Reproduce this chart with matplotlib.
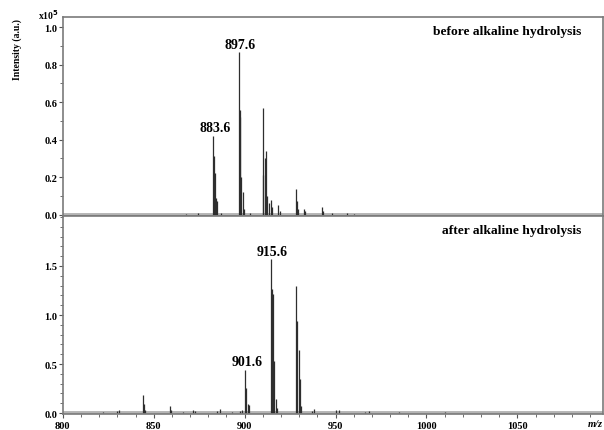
import matplotlib
matplotlib.use('Agg')
import matplotlib.pyplot as plt
from matplotlib.ticker import MultipleLocator, FixedLocator

plt.rcParams['font.family'] = 'Liberation Serif'
plt.rcParams['font.weight'] = 'bold'

# top spectrum: before alkaline hydrolysis (x1e5)
before_mz = [868.0, 874.5, 882.6, 882.9, 883.6, 884.0, 884.6, 887.0,
             896.7, 897.4, 897.7, 898.2, 898.9, 899.5, 903.0,
             910.0, 910.3, 911.4, 911.6, 912.5, 913.4, 914.3, 915.0, 918.3, 919.4,
             928.1, 928.8, 929.6, 932.5, 933.2, 942.4, 943.1, 948.0, 956.2, 960.0]
before_int = [0.005, 0.006, 0.42, 0.31, 0.22, 0.09, 0.07, 0.01,
              0.865, 0.56, 0.52, 0.20, 0.12, 0.03, 0.01,
              0.21, 0.566, 0.30, 0.34, 0.10, 0.06, 0.08, 0.04, 0.05, 0.02,
              0.136, 0.07, 0.03, 0.03, 0.02, 0.04, 0.02, 0.01, 0.01, 0.005]

# bottom spectrum: after alkaline hydrolysis (x1e5)
after_mz = [822.0, 829.9, 830.7, 843.9, 844.5, 845.2, 858.7, 859.3, 866.0, 871.8, 872.6,
            884.6, 886.2, 893.0, 897.5, 898.6, 900.2, 900.9, 901.6, 902.2,
            914.4, 915.0, 915.6, 916.3, 917.2, 917.8,
            928.3, 929.0, 929.7, 930.4, 931.1, 937.0, 938.4, 950.3, 952.1, 966.3, 968.2, 985.0, 1010.0]
after_int = [0.01, 0.025, 0.03, 0.18, 0.09, 0.03, 0.07, 0.03, 0.015, 0.03, 0.02,
             0.02, 0.04, 0.015, 0.02, 0.03, 0.44, 0.26, 0.09, 0.08,
             1.57, 1.27, 1.21, 0.53, 0.14, 0.05,
             1.30, 0.94, 0.64, 0.35, 0.07, 0.02, 0.04, 0.03, 0.03, 0.01, 0.02, 0.01, 0.01]

labels_before = [('883.6', 882.6, 0.42), ('897.6', 896.7, 0.865)]
labels_after = [('901.6', 900.2, 0.44), ('915.6', 914.4, 1.57)]

yticks_before = [0.0, 0.2, 0.4, 0.6, 0.8, 1.0]
yticks_after = [0.0, 0.5, 1.0, 1.5]

fig = plt.figure(figsize=(6.04, 4.31), dpi=100)
ax1 = fig.add_axes([0.104, 0.4965, 0.894, 0.4615])
ax2 = fig.add_axes([0.104, 0.036, 0.894, 0.4605])

spine_col = '#7a7a7a'
line_col = '#2e2e2e'

for ax, mz, inten, labs, ylim, yt, title in [
        (ax1, before_mz, before_int, labels_before, (-0.008, 1.053), yticks_before, 'before alkaline hydrolysis'),
        (ax2, after_mz, after_int, labels_after, (-0.015, 2.01), yticks_after, 'after alkaline hydrolysis')]:
    ax.axhline(0, color='#b4b4b4', lw=2.8, zorder=1)
    ax.vlines(mz, 0, inten, color=line_col, lw=0.9, zorder=2)
    for text, x, y in labs:
        ax.annotate(text, (x, y), xytext=(1.2, 1), textcoords='offset points',
                    ha='center', va='bottom', fontsize=10, fontweight='bold')
    ax.text(0.961, 0.93, title, transform=ax.transAxes, ha='right', va='center',
            fontsize=9.7, fontweight='bold')
    ax.set_xlim(800, 1097)
    ax.set_ylim(*ylim)
    ax.yaxis.set_major_locator(FixedLocator(yt))
    ax.yaxis.set_minor_locator(MultipleLocator(0.1))
    ax.xaxis.set_major_locator(MultipleLocator(50))
    ax.xaxis.set_minor_locator(MultipleLocator(10))
    ax.yaxis.set_major_formatter(plt.FormatStrFormatter('%.1f'))
    for s in ax.spines.values():
        s.set_color(spine_col)
        s.set_linewidth(1.2)
    ax.tick_params(which='both', direction='out', color='#555555', labelsize=7.5)
    ax.tick_params(which='major', length=3, width=0.8)
    ax.tick_params(which='minor', length=2, width=0.6)
    ax.tick_params(axis='x', pad=1.5)
    ax.tick_params(axis='y', pad=1)

ax1.tick_params(axis='x', which='both', bottom=False, labelbottom=False)
for lab in ax1.get_yticklabels() + ax2.get_yticklabels() + ax2.get_xticklabels():
    lab.set_fontweight('bold')

fig.text(0.028, 0.885, 'Intensity (a.u.)', rotation=90, ha='center', va='center',
         fontsize=7, fontweight='bold')
fig.text(0.081, 0.965, r'x10$^{\mathbf{5}}$', ha='center', va='center',
         fontsize=7, fontweight='bold')
fig.text(0.985, 0.014, 'm/z', ha='center', va='center', fontsize=7.5,
         fontweight='bold', style='italic')

fig.savefig('out.png', dpi=100)
